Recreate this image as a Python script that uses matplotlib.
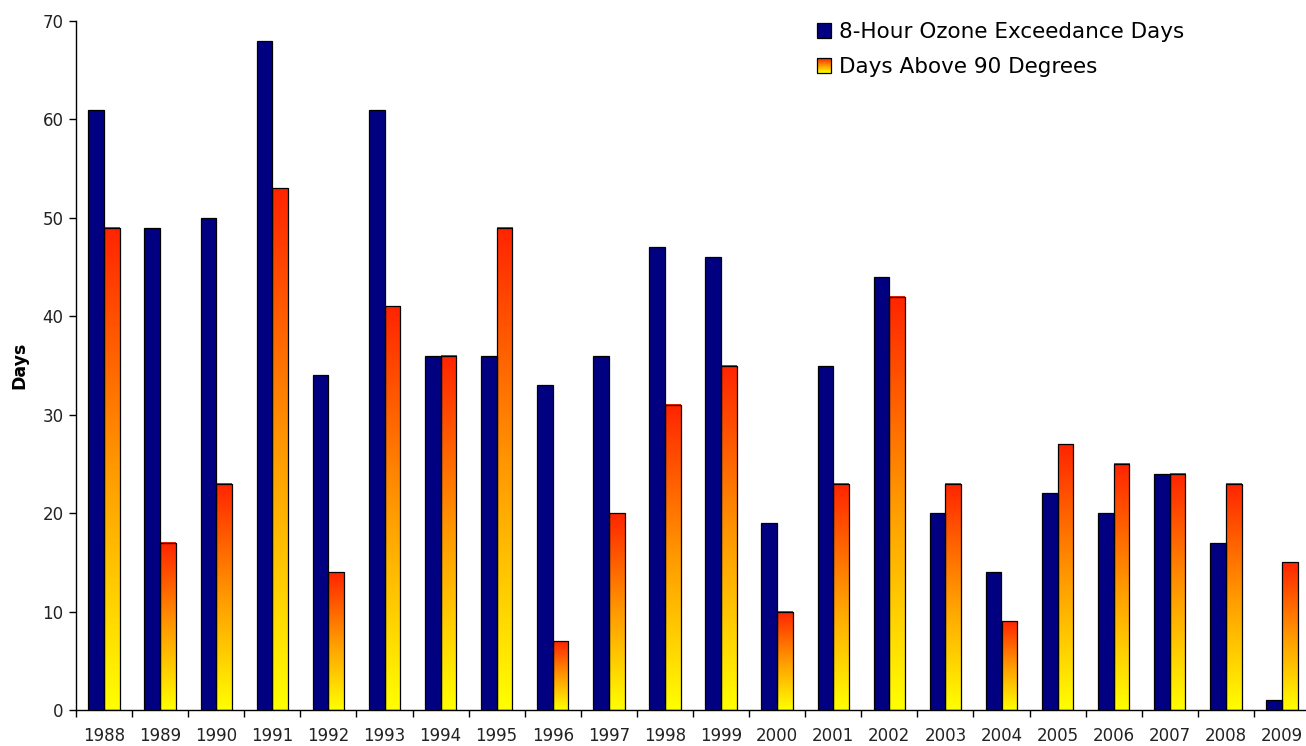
import numpy as np
import matplotlib
matplotlib.use("Agg")
import matplotlib.pyplot as plt
from matplotlib.colors import LinearSegmentedColormap
from matplotlib.patches import Patch, Rectangle
from matplotlib.legend_handler import HandlerBase

years = [str(y) for y in range(1988, 2010)]
ozone_days = [61, 49, 50, 68, 34, 61, 36, 36, 33, 36, 47, 46, 19, 35, 44, 20, 14, 22, 20, 24, 17, 1]
hot_days = [49, 17, 23, 53, 14, 41, 36, 49, 7, 20, 31, 35, 10, 23, 42, 23, 9, 27, 25, 24, 23, 15]
series_names = ["8-Hour Ozone Exceedance Days", "Days Above 90 Degrees"]

NAVY = "#000080"
heat_cmap = LinearSegmentedColormap.from_list("heat", ["#FFFF00", "#FF9900", "#FF2400"])

W, H = 1306, 746
fig = plt.figure(figsize=(W / 100, H / 100), dpi=100)
ax = fig.add_axes([76 / W, 1 - 710 / H, 1234 / W, (710 - 21) / H])

x = np.arange(len(years))
bw = 0.28

ax.bar(x - bw / 2, ozone_days, width=bw, color=NAVY, edgecolor="black",
       linewidth=0.9, zorder=3)

# gradient-filled bars: yellow at the base fading to red at the top
grad = np.linspace(0, 1, 256).reshape(-1, 1)
for xi, h in zip(x, hot_days):
    ax.imshow(grad, cmap=heat_cmap, origin="lower", aspect="auto",
              extent=[xi, xi + bw, 0, h], zorder=2, interpolation="bilinear")
ax.bar(x + bw / 2, hot_days, width=bw, facecolor="none", edgecolor="black",
       linewidth=0.9, zorder=3)

ax.set_xlim(-0.5, len(years) - 0.5)
ax.set_ylim(0, 70)
ax.set_yticks(range(0, 71, 10))
ax.set_xticks(x)
ax.set_xticklabels(years)
ax.set_xticks(np.arange(-0.5, len(years), 1.0), minor=True)

ax.tick_params(axis="x", which="major", length=0, pad=12.5, labelsize=12, colors="#222222")
ax.tick_params(axis="x", which="minor", length=5, width=1.0, direction="out")
ax.tick_params(axis="y", length=5, width=1.0, direction="out", pad=4,
               labelsize=12, labelcolor="#222222")

for side in ("top", "right"):
    ax.spines[side].set_visible(False)
for side in ("left", "bottom"):
    ax.spines[side].set_linewidth(1.0)

ax.set_ylabel("Days", fontsize=12.5, fontweight="bold")
ax.yaxis.set_label_coords(-48 / 1234, 0.5)


class HandlerGradient(HandlerBase):
    def create_artists(self, legend, orig_handle, xdescent, ydescent,
                       width, height, fontsize, trans):
        n = 24
        artists = []
        for i in range(n):
            r = Rectangle((-xdescent, -ydescent + height * i / n), width, height / n + 0.01,
                          facecolor=heat_cmap((i + 0.5) / n), edgecolor="none",
                          transform=trans)
            artists.append(r)
        outline = Rectangle((-xdescent, -ydescent), width, height, facecolor="none",
                            edgecolor="black", linewidth=0.9, transform=trans)
        artists.append(outline)
        return artists


h1 = Patch(facecolor=NAVY, edgecolor="black", linewidth=0.9)
h2 = Patch(facecolor="orange")
ax.legend([h1, h2], series_names, handler_map={h2: HandlerGradient()},
          loc="upper left", bbox_to_anchor=(817 / W, 1 - 22 / H),
          bbox_transform=fig.transFigure, frameon=False, fontsize=15.5,
          borderpad=0, borderaxespad=0, handlelength=0.66, handleheight=0.66,
          handletextpad=0.35, labelspacing=0.7)

fig.savefig("out.png", dpi=100)
